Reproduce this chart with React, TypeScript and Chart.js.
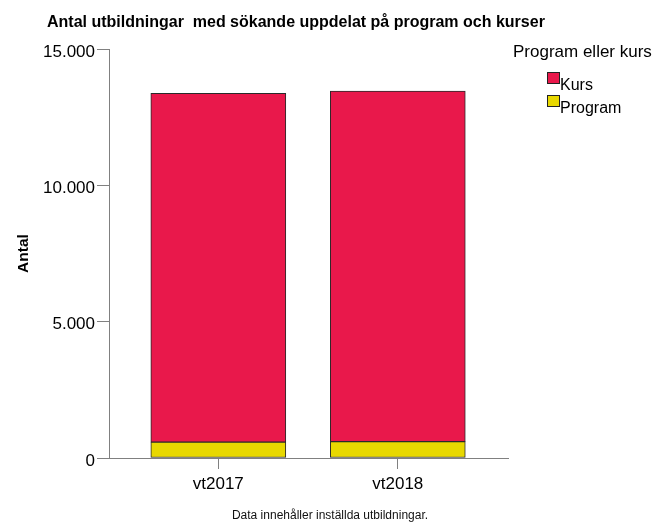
import React, { useEffect, useRef } from 'react';
import { Chart, registerables } from 'chart.js';

Chart.register(...registerables);

// ---- Data ----
const categories = ['vt2017', 'vt2018'];
const programValues = [580, 600];
const kursValues = [12790, 12860];
const yTickValues = [0, 5000, 10000, 15000];
const seriesNames = ['Program', 'Kurs'];
const seriesColors = ['#E8D800', '#E9184B'];

const titleText = 'Antal utbildningar  med sökande uppdelat på program och kurser';
const legendTitle = 'Program eller kurs';
const yAxisTitle = 'Antal';
const footnote = 'Data innehåller inställda utbildningar.';

const FONT = "'Liberation Sans', Arial, sans-serif";
const AXIS_GREY = '#808080';

const fmt = (v: number) => String(Math.round(v)).replace(/\B(?=(\d{3})+(?!\d))/g, '.');

const textPlugin = {
  id: 'texts',
  afterDraw(chart: any) {
    const ctx = chart.ctx;
    ctx.save();
    ctx.fillStyle = '#000';
    ctx.textBaseline = 'alphabetic';
    // Title
    ctx.font = `bold 16px ${FONT}`;
    ctx.textAlign = 'left';
    ctx.fillText(titleText, 47, 27);
    // Legend title
    ctx.font = `17px ${FONT}`;
    ctx.fillText(legendTitle, 513, 57);
    // Legend items (reverse order: Kurs first)
    const ds = chart.data.datasets.slice().reverse();
    ds.forEach((d: any, i: number) => {
      const top = 72 + i * 23;
      ctx.fillStyle = d.backgroundColor;
      ctx.fillRect(547.5, top + 0.5, 12, 11);
      ctx.strokeStyle = '#222';
      ctx.lineWidth = 1;
      ctx.strokeRect(547.5, top + 0.5, 12, 11);
      ctx.fillStyle = '#000';
      ctx.font = `16px ${FONT}`;
      ctx.fillText(d.label, 560, top + 18);
    });
    // Footnote
    ctx.font = `12px ${FONT}`;
    ctx.textAlign = 'center';
    ctx.fillStyle = '#111';
    ctx.fillText(footnote, 330, 519);
    ctx.restore();
  },
};

function App() {
  const canvasRef = useRef<HTMLCanvasElement | null>(null);

  useEffect(() => {
    document.body.style.margin = '0';
    const canvas = canvasRef.current;
    if (!canvas) return;
    const chart = new Chart(canvas, {
      type: 'bar',
      data: {
        datasets: [
          {
            label: seriesNames[0],
            data: programValues.map((v, i) => ({ x: i, y: v })),
            backgroundColor: seriesColors[0],
            borderColor: '#2a2a2a',
            borderWidth: 1,
            borderSkipped: false,
            barThickness: 135,
          },
          {
            label: seriesNames[1],
            data: kursValues.map((v, i) => ({ x: i, y: v })),
            backgroundColor: seriesColors[1],
            borderColor: '#2a2a2a',
            borderWidth: 1,
            borderSkipped: false,
            barThickness: 135,
          },
        ],
      },
      options: {
        animation: false,
        responsive: false,
        devicePixelRatio: 1,
        layout: { padding: { left: 0, top: 49, right: 151, bottom: 0 } },
        plugins: {
          legend: { display: false },
          title: { display: false },
          tooltip: { enabled: false },
        },
        scales: {
          x: {
            type: 'linear',
            stacked: true,
            offset: false,
            bounds: 'data',
            min: -0.609,
            max: 1.614,
            afterBuildTicks: (s: any) => {
              s.ticks = categories.map((_, i) => ({ value: i }));
            },
            afterFit: (s: any) => {
              s.height = 70;
            },
            grid: {
              offset: false,
              drawOnChartArea: false,
              drawTicks: true,
              tickLength: 11,
              color: AXIS_GREY,
            },
            border: { color: AXIS_GREY, width: 1 },
            ticks: {
              autoSkip: false,
              maxRotation: 0,
              padding: 5,
              color: '#000',
              font: { family: FONT, size: 17 },
              callback: (v: any) => categories[Math.round(v)] ?? '',
            },
          },
          y: {
            type: 'linear',
            stacked: true,
            min: 0,
            max: 15000,
            afterBuildTicks: (s: any) => {
              s.ticks = yTickValues.map((v) => ({ value: v }));
            },
            afterFit: (s: any) => {
              s.width = 109;
            },
            grid: {
              drawOnChartArea: false,
              drawTicks: true,
              tickLength: 12,
              color: AXIS_GREY,
            },
            border: { color: AXIS_GREY, width: 1 },
            ticks: {
              padding: 2,
              labelOffset: 3,
              color: '#000',
              font: { family: FONT, size: 17 },
              callback: (v: any) => fmt(Number(v)),
            },
            title: {
              display: true,
              text: yAxisTitle,
              color: '#000',
              font: { family: FONT, size: 15.5, weight: 'bold' },
              padding: { top: 14, bottom: 0 },
            },
          },
        },
      },
      plugins: [textPlugin],
    } as any);
    return () => chart.destroy();
  }, []);

  return (
    <div style={{ width: 659, height: 528, position: 'relative' }}>
      <canvas ref={canvasRef} width={659} height={528} style={{ display: 'block' }} />
    </div>
  );
}

export default App;
